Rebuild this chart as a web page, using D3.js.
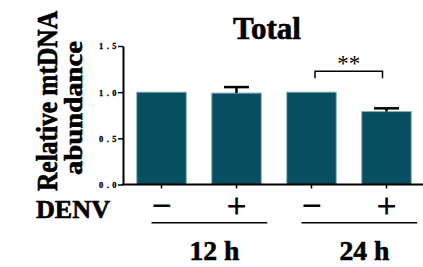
<!DOCTYPE html>
<html><head><meta charset="utf-8">
<script src="https://cdn.jsdelivr.net/npm/d3@7"></script>
<style>body{margin:0;background:#fff}svg{display:block}</style>
</head><body>
<script>
const categories = ["12h-", "12h+", "24h-", "24h+"];
const denvLabels = ["\u2212", "+", "\u2212", "+"];
const values = [1.0, 0.99, 1.0, 0.79];
const errors = [0, 0.065, 0, 0.035];
const groups = ["12 h", "24 h"];
const yTicks = [0, 0.5, 1.0, 1.5];
const title = "Total";
const yLabel = ["Relative mtDNA", "abundance"];
const sigLabel = "**";
const sigPair = [2, 3];

const W = 423, H = 267;
const svg = d3.select("body").append("svg").attr("width", W).attr("height", H);
const serif = "'Liberation Serif','Times New Roman',serif";

const x = d3.scaleBand().domain(categories).range([124, 424]).paddingInner(0.34).paddingOuter(0.17);
const y = d3.scaleLinear().domain([0, 1.5]).range([184.5, 46]);
const bw = x.bandwidth();
const cx = c => x(c) + bw / 2;

// bars
svg.selectAll("rect.bar").data(categories).join("rect")
  .attr("x", c => x(c)).attr("width", bw)
  .attr("y", (c, i) => y(values[i])).attr("height", (c, i) => y(0) - y(values[i]))
  .attr("fill", "#064e60").attr("stroke", "#86aeb9").attr("stroke-width", 1);

// error bars
categories.forEach((c, i) => {
  if (!errors[i]) return;
  const top = y(values[i] + errors[i]);
  svg.append("line").attr("x1", cx(c)).attr("x2", cx(c)).attr("y1", y(values[i])).attr("y2", top)
    .attr("stroke", "#000").attr("stroke-width", 2.5);
  svg.append("line").attr("x1", cx(c) - 12.5).attr("x2", cx(c) + 12.5).attr("y1", top).attr("y2", top)
    .attr("stroke", "#000").attr("stroke-width", 2.5);
});

// y axis
const ya = svg.append("g").attr("transform", "translate(123,0)")
  .call(d3.axisLeft(y).tickValues(yTicks).tickFormat(d3.format(".1f")).tickSize(5).tickSizeOuter(0));
ya.select(".domain").attr("stroke-width", 2);
ya.selectAll(".tick line").attr("stroke-width", 1.5);
ya.selectAll(".tick text").attr("font-family", serif).attr("font-weight", "bold").attr("fill", "#000")
  .attr("stroke", "#000").attr("stroke-width", 0.3)
  .attr("font-size", 8.5).attr("letter-spacing", "3.5px").attr("x", -3).attr("dy", "0.35em");

// x axis
const xa = svg.append("g").attr("transform", `translate(0,${y(0)})`)
  .call(d3.axisBottom(x).tickSize(4).tickSizeOuter(0).tickFormat(""));
xa.select(".domain").attr("stroke-width", 2).attr("d", `M122,0H423`);
xa.selectAll(".tick line").attr("stroke-width", 1.5);

const heavy = sel => sel.attr("font-family", serif).attr("font-weight", "bold")
  .attr("fill", "#000").attr("stroke", "#000").attr("stroke-width", 0.6);

// title
heavy(svg.append("text").attr("x", 267).attr("y", 39).attr("text-anchor", "middle")
  .attr("font-size", 31).attr("textLength", 68).attr("lengthAdjust", "spacingAndGlyphs")).text(title);

// y label
heavy(svg.append("text").attr("transform", "translate(57,101) rotate(-90) scale(1,1.12)").attr("text-anchor", "middle")
  .attr("font-size", 26).attr("textLength", 180).attr("lengthAdjust", "spacingAndGlyphs")).text(yLabel[0]);
heavy(svg.append("text").attr("transform", "translate(82,108) rotate(-90)").attr("text-anchor", "middle")
  .attr("font-size", 26).attr("textLength", 134).attr("lengthAdjust", "spacingAndGlyphs")).text(yLabel[1]);

// significance bracket
const bx1 = cx(categories[sigPair[0]]) + 3.5, bx2 = cx(categories[sigPair[1]]) - 4;
const by = y(1.226), byEnd = y(1.15);
svg.append("path").attr("d", `M${bx1},${byEnd}V${by}H${bx2}V${byEnd}`)
  .attr("fill", "none").attr("stroke", "#000").attr("stroke-width", 1.5);
svg.append("text").attr("x", (bx1 + bx2) / 2).attr("y", 71).attr("text-anchor", "middle")
  .attr("font-family", serif).attr("font-size", 23).text(sigLabel);

// DENV row
heavy(svg.append("text").attr("x", 36).attr("y", 218)
  .attr("font-size", 25).attr("textLength", 74).attr("lengthAdjust", "spacingAndGlyphs")).text("DENV");
svg.selectAll("text.denv").data(categories).join("text")
  .attr("x", c => cx(c)).attr("y", 217).attr("text-anchor", "middle")
  .attr("font-family", serif).attr("font-size", 34).attr("stroke", "#000").attr("stroke-width", 0.8)
  .text((c, i) => denvLabels[i]);

// group underlines and labels
groups.forEach((g, gi) => {
  const a = categories[gi * 2], b = categories[gi * 2 + 1];
  const ux1 = cx(a) - 10, ux2 = x(b) + bw + 6;
  svg.append("line").attr("x1", ux1).attr("x2", ux2).attr("y1", 222.7).attr("y2", 222.7)
    .attr("stroke", "#000").attr("stroke-width", 1.5);
  heavy(svg.append("text").attr("x", (ux1 + ux2) / 2 + 5).attr("y", 260).attr("text-anchor", "middle")
    .attr("font-size", 28).attr("textLength", 50).attr("lengthAdjust", "spacingAndGlyphs")).text(g);
});
</script>
</body></html>
